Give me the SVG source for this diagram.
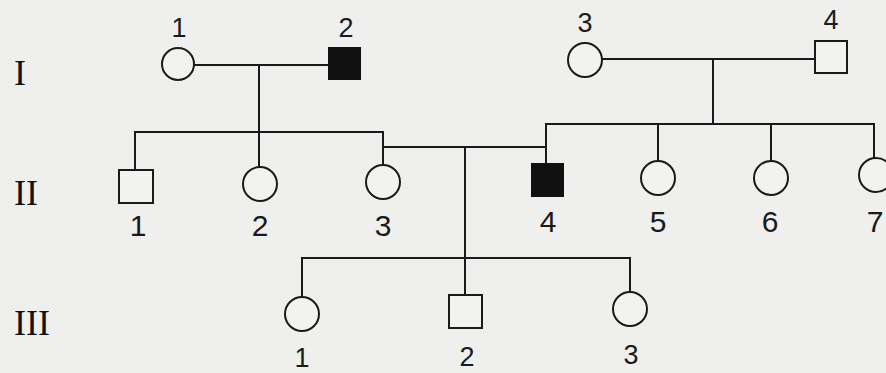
<svg xmlns="http://www.w3.org/2000/svg" width="886" height="373" viewBox="0 0 886 373">
<style>
.bg{fill:#efefed}
.ln{stroke:#1a1a1a;stroke-width:2;fill:none;stroke-linecap:square}
.f{fill:#f2f2f0;stroke:#1a1a1a;stroke-width:2}
.a{fill:#111;stroke:#111;stroke-width:2}
.num{font-family:"Liberation Sans",Arial,sans-serif;fill:#1a1a1a;text-anchor:middle}
.n1{font-size:27px}
.n2{font-size:30px}
.n3{font-size:27px}
.gen{font-family:"Liberation Serif","Times New Roman",serif;font-size:36px;fill:#111}
</style>
<rect class="bg" x="0" y="0" width="886" height="373"/>
<g id="generations">
<text class="gen" x="14" y="85">I</text>
<text class="gen" x="14" y="205">II</text>
<text class="gen" x="14" y="335">III</text>
</g>
<g id="connectors">
<path class="ln" d="M194 65 H328"/>
<path class="ln" d="M259 65 V132"/>
<path class="ln" d="M135 132 H383"/>
<path class="ln" d="M135 132 V170"/>
<path class="ln" d="M259 132 V167"/>
<path class="ln" d="M383 132 V165"/>
<path class="ln" d="M602 59 H815"/>
<path class="ln" d="M713 59 V124"/>
<path class="ln" d="M546 124 H874"/>
<path class="ln" d="M546 124 V164"/>
<path class="ln" d="M658 124 V162"/>
<path class="ln" d="M771 124 V162"/>
<path class="ln" d="M874 124 V158"/>
<path class="ln" d="M383 147 H546"/>
<path class="ln" d="M465 147 V295"/>
<path class="ln" d="M302 258 H630"/>
<path class="ln" d="M302 258 V297"/>
<path class="ln" d="M630 258 V292"/>
</g>
<g id="I-1"><circle class="f" cx="178" cy="64" r="16"/><text class="num n1" x="179" y="37">1</text></g>
<g id="I-2"><rect class="a" x="329" y="48" width="31" height="31"/><text class="num n1" x="346" y="37">2</text></g>
<g id="I-3"><circle class="f" cx="585" cy="60" r="17"/><text class="num n1" x="585" y="32">3</text></g>
<g id="I-4"><rect class="f" x="815" y="41" width="32" height="32"/><text class="num n1" x="831" y="29">4</text></g>
<g id="II-1"><rect class="f" x="119" y="170" width="34" height="33"/><text class="num n2" x="138" y="236">1</text></g>
<g id="II-2"><circle class="f" cx="260" cy="184" r="17"/><text class="num n2" x="260" y="236">2</text></g>
<g id="II-3"><circle class="f" cx="383" cy="182" r="17"/><text class="num n2" x="383" y="236">3</text></g>
<g id="II-4"><rect class="a" x="532" y="164" width="31" height="32"/><text class="num n2" x="548" y="232">4</text></g>
<g id="II-5"><circle class="f" cx="658" cy="178" r="17"/><text class="num n2" x="658" y="232">5</text></g>
<g id="II-6"><circle class="f" cx="771" cy="178" r="17"/><text class="num n2" x="770" y="232">6</text></g>
<g id="II-7"><circle class="f" cx="876" cy="175" r="17"/><text class="num n2" x="875" y="232">7</text></g>
<g id="III-1"><circle class="f" cx="302" cy="314" r="17"/><text class="num n3" x="302" y="367">1</text></g>
<g id="III-2"><rect class="f" x="449" y="295" width="33" height="33"/><text class="num n3" x="467" y="366">2</text></g>
<g id="III-3"><circle class="f" cx="630" cy="309" r="17"/><text class="num n3" x="631" y="364">3</text></g>
</svg>
